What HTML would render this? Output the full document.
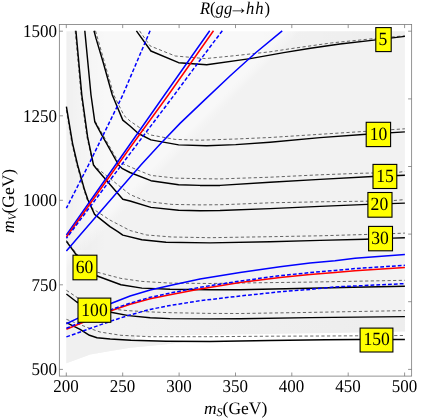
<!DOCTYPE html>
<html><head><meta charset="utf-8"><title>R(gg→hh)</title>
<style>
html,body{margin:0;padding:0;background:#fff;}
body{width:436px;height:418px;position:relative;overflow:hidden;font-family:"Liberation Serif",serif;}
svg text{font-family:"Liberation Serif",serif;fill:#000;text-rendering:geometricPrecision;}
#txt{filter:grayscale(1);}
.tk{font-size:17px;}
.lb{font-size:17.6px;}
.ti{font-size:16.6px;}
.ax{font-size:17.5px;}
</style></head><body>
<svg width="436" height="418" viewBox="0 0 436 418" style="position:absolute;left:0;top:0">
<rect x="0" y="0" width="436" height="418" fill="#fff"/>
<defs><linearGradient id="g0" gradientUnits="userSpaceOnUse" x1="152.6" y1="120" x2="195.4" y2="162"><stop offset="0" stop-color="#f8f8f8"/><stop offset="0.55" stop-color="#f8f8f8"/><stop offset="0.72" stop-color="#f2f2f2"/><stop offset="1" stop-color="#f2f2f2"/></linearGradient><linearGradient id="g5" gradientUnits="userSpaceOnUse" x1="250" y1="0" x2="405" y2="0"><stop offset="0" stop-color="#000" stop-opacity="0"/><stop offset="1" stop-color="#000" stop-opacity="0.022"/></linearGradient><linearGradient id="gl" x1="0" y1="0" x2="1" y2="0"><stop offset="0" stop-color="#000" stop-opacity="0.035"/><stop offset="0.3" stop-color="#000" stop-opacity="0.02"/><stop offset="1" stop-color="#000" stop-opacity="0"/></linearGradient><linearGradient id="gb" gradientUnits="userSpaceOnUse" x1="66" y1="0" x2="405" y2="0"><stop offset="0" stop-color="#f2f2f2"/><stop offset="0.4" stop-color="#f0f0f0"/><stop offset="1" stop-color="#ededed"/></linearGradient></defs>
<polygon points="66.4,31.2 404.9,31.2 404.9,339.4 326.0,339.7 270.0,340.5 210.0,341.5 187.0,341.4 166.0,344.2 130.0,347.8 110.2,351.1 90.1,354.5 66.4,363.3" fill="url(#g0)"/>
<polygon points="136.4,31.2 404.9,31.2 404.9,36.4 376.0,39.9 340.0,44.0 310.5,48.3 283.7,52.6 250.2,58.6 206.7,64.7 178.6,62.7 150.9,51.0 136.4,30.8" fill="url(#g5)"/>
<polygon points="66.4,31.25 106.4,31.25 106.4,250 66.4,250" fill="url(#gl)"/>
<polygon points="66.4,294.0 76.7,302.0 90.0,308.0 110.9,312.2 128.5,315.6 150.2,317.7 170.0,318.6 210.0,318.9 240.0,318.7 310.0,317.6 404.9,316.6 404.9,339.4 359.3,339.5 326.0,339.7 270.0,340.5 210.0,341.5 166.0,341.2 131.0,340.3 110.2,339.0 97.0,337.8 89.5,335.3 80.1,329.3 66.4,322.6" fill="url(#gb)"/>
<polygon points="66.4,322.6 80.1,329.3 89.5,335.3 97.0,337.8 110.2,339.0 131.0,340.3 166.0,341.2 210.0,341.5 270.0,340.5 326.0,339.7 359.3,339.5 404.9,339.4 404.9,339.4 326.0,339.7 270.0,340.5 210.0,341.5 187.0,341.4 166.0,344.2 130.0,347.8 110.2,351.1 90.1,354.5 66.4,363.3" fill="#f0f0f0"/>
<polygon points="135.0,336.8 160.0,335.4 220.0,334.8 300.0,333.4 360.0,332.4 404.9,331.5 404.9,339.4 359.3,339.5 326.0,339.7 270.0,340.5 210.0,341.5 166.0,341.2 135.0,340.4" fill="#fff"/>
<rect x="59.35" y="24.5" width="352.3" height="351.6" fill="none" stroke="#7a7a7a" stroke-width="0.8"/>
<path d="M66.3 376.1 v-3.6 M66.3 24.5 v3.6 M122.7 376.1 v-3.6 M122.7 24.5 v3.6 M179.1 376.1 v-3.6 M179.1 24.5 v3.6 M235.5 376.1 v-3.6 M235.5 24.5 v3.6 M291.8 376.1 v-3.6 M291.8 24.5 v3.6 M348.2 376.1 v-3.6 M348.2 24.5 v3.6 M404.6 376.1 v-3.6 M404.6 24.5 v3.6 M59.35 31.2 h3.6 M59.35 115.8 h3.6 M59.35 200.3 h3.6 M59.35 284.8 h3.6 M59.35 369.4 h3.6 M411.7 31.2 h-3.6 M411.7 98.9 h-3.6 M411.7 166.5 h-3.6 M411.7 234.1 h-3.6 M411.7 301.7 h-3.6 M411.7 369.4 h-3.6" stroke="#7a7a7a" stroke-width="0.8" fill="none"/>
<path d="M139.5 30.8 L150.1 45.9 L175.2 56.0 L205.4 58.6 L235.7 55.6 L270.0 51.8 L291.2 48.6 L331.6 42.9 L376.0 38.4 L404.9 35.8" fill="none" stroke="#262626" stroke-width="0.7" stroke-dasharray="3.2 2.4"/>
<path d="M95.5 30.8 L113.8 95.0 L124.0 115.5 L130.0 121.0 L150.1 134.9 L175.2 139.4 L200.0 140.2 L235.7 139.0 L270.0 137.5 L326.0 133.9 L366.4 131.3 L404.9 128.8" fill="none" stroke="#262626" stroke-width="0.7" stroke-dasharray="3.2 2.4"/>
<path d="M95.3 121.4 L102.6 134.3 L118.3 161.8 L122.5 163.6 L130.0 166.8 L138.0 170.2 L150.9 175.4 L175.2 178.1 L200.0 178.7 L220.0 178.9 L270.0 177.2 L320.0 174.8 L360.0 173.3 L372.7 173.0 L397.0 172.5 L404.9 171.4" fill="none" stroke="#262626" stroke-width="0.7" stroke-dasharray="3.2 2.4"/>
<path d="M75.2 30.8 L81.1 95.0 L86.9 136.9 L93.0 164.0 L96.0 167.3 L130.0 194.5 L146.7 201.5 L171.9 204.4 L200.0 204.9 L223.0 204.7 L270.0 202.8 L320.0 201.8 L367.6 201.2 L392.6 200.6 L404.9 199.6" fill="none" stroke="#262626" stroke-width="0.7" stroke-dasharray="3.2 2.4"/>
<path d="M66.4 110.0 L71.9 143.6 L76.9 165.0 L84.0 190.1 L87.2 200.0 L92.3 208.3 L95.9 210.8 L110.0 220.1 L130.0 230.5 L146.7 235.0 L171.9 237.0 L210.0 237.7 L270.0 236.7 L320.0 235.8 L365.0 234.5 L392.7 233.6 L404.9 233.1" fill="none" stroke="#262626" stroke-width="0.7" stroke-dasharray="3.2 2.4"/>
<path d="M66.4 240.3 L76.0 253.0 L86.0 263.5 L97.2 272.2 L120.9 278.4 L141.9 281.4 L170.0 283.1 L210.0 283.5 L256.7 282.8 L310.0 282.1 L404.9 280.3" fill="none" stroke="#262626" stroke-width="0.7" stroke-dasharray="3.2 2.4"/>
<path d="M66.4 290.3 L77.6 297.8 L95.0 305.0 L110.9 309.0 L128.5 310.7 L150.2 311.9 L170.0 312.7 L210.0 313.4 L240.0 313.5 L310.0 312.4 L404.9 310.6" fill="none" stroke="#262626" stroke-width="0.7" stroke-dasharray="3.2 2.4"/>
<path d="M66.4 319.3 L90.1 328.5 L100.0 332.0 L120.9 335.3 L150.2 336.7 L210.0 336.7 L270.0 336.2 L326.0 336.0 L404.9 335.5" fill="none" stroke="#262626" stroke-width="0.7" stroke-dasharray="3.2 2.4"/>
<path d="M136.4 30.8 L150.9 51.0 L178.6 62.7 L206.7 64.7 L250.2 58.6 L283.7 52.6 L310.5 48.3 L340.0 44.0 L376.0 39.9 L404.9 36.4" fill="none" stroke="#000" stroke-width="1.45" stroke-linejoin="round"/>
<path d="M94.0 30.8 L96.0 38.4 L103.5 63.5 L112.3 95.0 L122.8 120.1 L130.0 126.0 L138.4 133.5 L150.9 139.9 L178.6 144.9 L206.7 145.7 L235.7 144.6 L270.0 142.2 L320.0 137.6 L366.4 134.2 L404.9 131.9" fill="none" stroke="#000" stroke-width="1.45" stroke-linejoin="round"/>
<path d="M84.8 30.8 L91.0 95.0 L94.8 121.8 L101.9 135.2 L118.6 165.0 L122.0 168.3 L130.0 172.5 L150.9 180.7 L178.6 184.8 L200.0 185.4 L220.0 185.4 L270.0 182.2 L320.0 179.4 L372.7 176.5 L404.9 175.2" fill="none" stroke="#000" stroke-width="1.45" stroke-linejoin="round"/>
<path d="M75.9 30.8 L81.8 95.0 L87.6 136.9 L93.5 165.0 L96.0 168.3 L122.8 199.3 L130.0 201.0 L150.9 207.4 L178.6 210.2 L200.0 210.7 L220.0 210.5 L270.0 208.6 L320.0 206.4 L367.6 204.4 L404.9 203.1" fill="none" stroke="#000" stroke-width="1.45" stroke-linejoin="round"/>
<path d="M66.4 106.7 L72.6 143.6 L77.6 165.0 L84.6 190.1 L88.0 200.0 L94.6 214.4 L110.0 226.6 L117.8 231.6 L122.8 235.1 L141.8 239.7 L166.0 242.2 L210.0 242.9 L270.0 241.8 L320.0 240.4 L365.0 239.2 L392.7 238.1 L404.9 237.8" fill="none" stroke="#000" stroke-width="1.45" stroke-linejoin="round"/>
<path d="M66.4 241.4 L75.9 254.3 L85.0 266.0 L97.2 276.0 L120.9 284.7 L141.9 288.1 L170.0 289.3 L210.0 289.7 L240.0 289.8 L273.5 289.0 L310.0 288.2 L353.0 287.2 L404.9 286.3" fill="none" stroke="#000" stroke-width="1.45" stroke-linejoin="round"/>
<path d="M66.4 294.0 L76.7 302.0 L90.0 308.0 L110.9 312.2 L128.5 315.6 L150.2 317.7 L170.0 318.6 L210.0 318.9 L240.0 318.7 L310.0 317.6 L404.9 316.6" fill="none" stroke="#000" stroke-width="1.45" stroke-linejoin="round"/>
<path d="M66.4 322.6 L80.1 329.3 L89.5 335.3 L97.0 337.8 L110.2 339.0 L131.0 340.3 L166.0 341.2 L210.0 341.5 L270.0 340.5 L326.0 339.7 L359.3 339.5 L404.9 339.4" fill="none" stroke="#000" stroke-width="1.45" stroke-linejoin="round"/>
<path d="M209.7 30.8 L164.3 95.3 L130.0 144.3 L66.4 235.0" fill="none" stroke="#0000ff" stroke-width="1.5"/>
<path d="M282.2 30.8 L255.7 52.7 L230.5 75.5 L205.2 99.4 L180.0 123.4 L160.0 144.3 L140.9 165.0 L130.0 177.5 L80.1 235.0 L66.4 250.9" fill="none" stroke="#0000ff" stroke-width="1.5"/>
<path d="M66.4 323.8 L77.6 318.4 L110.9 303.5 L130.1 296.0 L150.2 290.1 L170.0 285.4 L200.0 278.9 L240.0 272.6 L280.0 266.8 L310.0 263.0 L335.0 260.8 L355.0 258.2 L404.9 254.4" fill="none" stroke="#0000ff" stroke-width="1.5"/>
<path d="M150.1 30.8 L130.0 78.0 L122.8 95.0 L88.5 165.0 L66.4 208.2" fill="none" stroke="#0000ff" stroke-width="1.5" stroke-dasharray="3.8 2.05"/>
<path d="M66.4 336.9 L110.9 321.1 L130.1 314.9 L150.2 309.4 L170.0 305.5 L200.0 300.7 L240.0 296.0 L280.0 291.8 L310.0 289.4 L335.0 286.9 L355.0 286.0 L404.9 283.6" fill="none" stroke="#0000ff" stroke-width="1.5" stroke-dasharray="3.8 2.05"/>
<path d="M213.5 30.8 L168.3 95.0 L130.0 147.8 L66.4 237.0" fill="none" stroke="#ff0000" stroke-width="1.5"/>
<path d="M66.4 329.3 L110.9 310.7 L130.1 304.3 L150.2 298.8 L170.0 294.8 L200.0 288.9 L240.0 282.4 L280.0 277.4 L310.0 274.5 L335.0 272.4 L355.0 270.7 L404.9 267.4" fill="none" stroke="#ff0000" stroke-width="1.5"/>
<path d="M222.3 30.8 L200.0 60.2 L174.2 95.0 L130.0 153.6 L66.4 238.3" fill="none" stroke="#0000ff" stroke-width="1.5" stroke-dasharray="3.8 2.05"/>
<path d="M66.4 328.3 L110.9 309.6 L130.1 303.2 L150.2 297.3 L170.0 293.1 L200.0 287.3 L240.0 281.0 L280.0 275.7 L310.0 272.6 L335.0 270.4 L355.0 268.6 L404.9 265.3" fill="none" stroke="#0000ff" stroke-width="1.5" stroke-dasharray="3.8 2.05"/>
<rect x="375.8" y="27.6" width="15.4" height="24.0" fill="#ffff00" stroke="#000" stroke-width="1.1"/>
<rect x="366.2" y="122.3" width="24.4" height="24.3" fill="#ffff00" stroke="#000" stroke-width="1.1"/>
<rect x="373.0" y="164.4" width="23.8" height="24.1" fill="#ffff00" stroke="#000" stroke-width="1.1"/>
<rect x="367.9" y="192.5" width="24.1" height="24.7" fill="#ffff00" stroke="#000" stroke-width="1.1"/>
<rect x="368.6" y="226.4" width="23.9" height="24.4" fill="#ffff00" stroke="#000" stroke-width="1.1"/>
<rect x="73.0" y="255.2" width="23.9" height="24.6" fill="#ffff00" stroke="#000" stroke-width="1.1"/>
<rect x="78.0" y="298.1" width="32.8" height="24.2" fill="#ffff00" stroke="#000" stroke-width="1.1"/>
<rect x="360.1" y="328.1" width="32.8" height="23.9" fill="#ffff00" stroke="#000" stroke-width="1.1"/>
</svg>
<svg width="436" height="418" viewBox="0 0 436 418" style="position:absolute;left:0;top:0" id="txt">
<text transform="translate(383.0 44.9) scale(1 1.06)" text-anchor="middle" class="lb">5</text>
<text transform="translate(378.5 139.8) scale(1 1.06)" text-anchor="middle" class="lb">10</text>
<text transform="translate(385.0 181.8) scale(1 1.06)" text-anchor="middle" class="lb">15</text>
<text transform="translate(379.4 210.2) scale(1 1.06)" text-anchor="middle" class="lb">20</text>
<text transform="translate(380.1 243.9) scale(1 1.06)" text-anchor="middle" class="lb">30</text>
<text transform="translate(84.5 272.8) scale(1 1.06)" text-anchor="middle" class="lb">60</text>
<text transform="translate(94.5 315.5) scale(1 1.06)" text-anchor="middle" class="lb">100</text>
<text transform="translate(376.6 345.4) scale(1 1.06)" text-anchor="middle" class="lb">150</text>
<text transform="translate(66.1 392.3) scale(1 1.06)" text-anchor="middle" class="tk">200</text>
<text transform="translate(122.5 392.3) scale(1 1.06)" text-anchor="middle" class="tk">250</text>
<text transform="translate(178.9 392.3) scale(1 1.06)" text-anchor="middle" class="tk">300</text>
<text transform="translate(235.3 392.3) scale(1 1.06)" text-anchor="middle" class="tk">350</text>
<text transform="translate(291.6 392.3) scale(1 1.06)" text-anchor="middle" class="tk">400</text>
<text transform="translate(348.0 392.3) scale(1 1.06)" text-anchor="middle" class="tk">450</text>
<text transform="translate(404.4 392.3) scale(1 1.06)" text-anchor="middle" class="tk">500</text>
<text transform="translate(57 37.1) scale(1 1.06)" text-anchor="end" class="tk">1500</text>
<text transform="translate(57 121.7) scale(1 1.06)" text-anchor="end" class="tk">1250</text>
<text transform="translate(57 206.2) scale(1 1.06)" text-anchor="end" class="tk">1000</text>
<text transform="translate(57 290.7) scale(1 1.06)" text-anchor="end" class="tk">750</text>
<text transform="translate(57 375.2) scale(1 1.06)" text-anchor="end" class="tk">500</text>
<text transform="translate(232.2 13.7) scale(1 1.07)" text-anchor="end" class="ti"><tspan font-style="italic">R</tspan>(<tspan font-style="italic">gg</tspan></text>
<text transform="translate(238.4 13.5) scale(1.2 1.15)" text-anchor="middle" class="ti">→</text>
<text transform="translate(246 13.7) scale(1 1.07)" text-anchor="start" class="ti" letter-spacing="0.9"><tspan font-style="italic">hh</tspan>)</text>
<text x="235.6" y="413.7" text-anchor="middle" class="ax"><tspan font-style="italic">m</tspan><tspan font-style="italic" font-size="12.2" dy="2.6">S</tspan><tspan dy="-2.6">(GeV)</tspan></text>
<text transform="translate(13.5 200.9) rotate(-90)" text-anchor="middle" class="ax"><tspan font-style="italic">m</tspan><tspan font-style="italic" font-size="11.2" dy="2.6">V</tspan><tspan dy="-2.6">(GeV)</tspan></text>
</svg>
</body></html>
